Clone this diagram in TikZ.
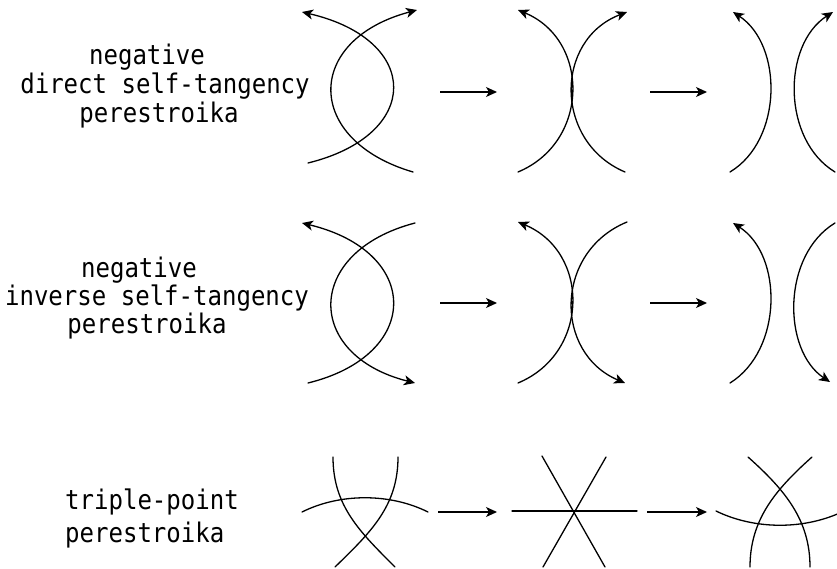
\documentclass[tikz,border=0pt]{standalone}
\usepackage{fontspec}
\newfontfamily\lblmono[FakeStretch=0.89]{DejaVu Sans Mono}
\usetikzlibrary{arrows.meta}

\begin{document}
\begin{tikzpicture}[x=1pt,y=-1pt,
  curve/.style={line width=1.3pt, line cap=round},
  tipend/.style={-{Stealth[length=11pt,width=10pt,inset=3pt]}},
  stepto/.style={line width=1.3pt, -{Stealth[length=11pt,width=10pt,inset=3pt]}},
  lbl/.style={font=\lblmono\fontsize{27}{30}\selectfont, inner sep=0pt, anchor=base},
  lblw/.style={lbl, anchor=base west}]
\useasboundingbox (0,0) rectangle (837,569);
\clip (0,0) rectangle (837,569);

% ---------- row 1: negative direct self-tangency ----------
\node[lbl] (d1) at (147,65) {negative};
\node[lbl] (d2) at (165,94) {direct self-tangency};
\node[lbl] (d3) at (159,123) {perestroika};

\draw[curve,tipend] (308,163) .. controls (422,135) and (422,40) .. (302,12);
\draw[curve,tipend] (413,172) .. controls (304,140) and (304,40) .. (417,10);

\draw[curve,tipend] (518,172) .. controls (590,142) and (590,40) .. (518,10);
\draw[curve,tipend] (625,172) .. controls (554,142) and (554,40) .. (627,12);

\draw[curve,tipend] (730,172) .. controls (783,140) and (783,45) .. (733,12);
\draw[curve,tipend] (835,172) .. controls (782,140) and (782,45) .. (833,12);

\coordinate (a1s) at (440,92);  \coordinate (a1e) at (497,92);
\coordinate (a2s) at (650,92);  \coordinate (a2e) at (707,92);
\draw[stepto] (a1s) -- (a1e);
\draw[stepto] (a2s) -- (a2e);

% ---------- row 2: negative inverse self-tangency ----------
\node[lbl] (i1) at (139,277) {negative};
\node[lbl] (i2) at (157,305) {inverse self-tangency};
\node[lbl] (i3) at (147,333) {perestroika};

\draw[curve,tipend] (308,383) .. controls (422,355) and (422,252) .. (302,223);
\draw[curve,tipend] (415,223) .. controls (304,252) and (304,355) .. (415,383);

\draw[curve,tipend] (518,383) .. controls (590,353) and (590,252) .. (518,222);
\draw[curve,tipend] (627,222) .. controls (554,252) and (554,353) .. (625,383);

\draw[curve,tipend] (730,383) .. controls (783,350) and (783,255) .. (733,223);
\draw[curve,tipend] (835,223) .. controls (782,255) and (782,350) .. (830,382);

\coordinate (b1s) at (440,303); \coordinate (b1e) at (497,303);
\coordinate (b2s) at (650,303); \coordinate (b2e) at (707,303);
\draw[stepto] (b1s) -- (b1e);
\draw[stepto] (b2s) -- (b2e);

% ---------- row 3: triple-point ----------
\node[lblw] (t1) at (65,509) {triple-point};
\node[lblw] (t2) at (65,542) {perestroika};

\draw[curve] (302,512) .. controls (340,493) and (390,493) .. (428,512);
\draw[curve] (333,457) .. controls (333,506) and (360,532) .. (395,567);
\draw[curve] (398,457) .. controls (398,506) and (371,532) .. (335,567);

\draw[curve] (512,511) -- (637,511);
\draw[curve] (542,456) -- (605,567);
\draw[curve] (606,457) -- (543,567);

\draw[curve] (716,511) .. controls (755,530) and (805,530) .. (844,511);
\draw[curve] (748,457) .. controls (785,490) and (810,520) .. (810,567);
\draw[curve] (812,457) .. controls (775,490) and (750,520) .. (750,567);

\coordinate (c1s) at (438,512); \coordinate (c1e) at (497,512);
\coordinate (c2s) at (647,512); \coordinate (c2e) at (707,512);
\draw[stepto] (c1s) -- (c1e);
\draw[stepto] (c2s) -- (c2e);
\end{tikzpicture}
\end{document}
